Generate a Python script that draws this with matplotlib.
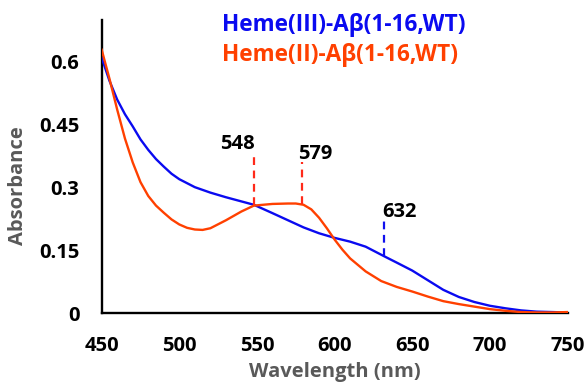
import matplotlib
matplotlib.use("Agg")
from matplotlib import pyplot as plt

# UV-vis spectra of heme-Abeta(1-16, WT), absorbance vs wavelength (nm)
wl_fe3 = [450, 455, 460, 465, 470, 475, 480, 485, 490, 495, 500, 510, 520, 530,
          540, 548, 560, 570, 580, 590, 600, 610, 620, 632, 640, 650, 660, 670,
          680, 690, 700, 710, 720, 730, 740, 750]
abs_fe3 = [0.610, 0.555, 0.510, 0.475, 0.446, 0.415, 0.390, 0.368, 0.350, 0.333,
           0.320, 0.301, 0.288, 0.277, 0.267, 0.259, 0.239, 0.222, 0.205, 0.191,
           0.180, 0.171, 0.159, 0.136, 0.121, 0.102, 0.079, 0.056, 0.039, 0.027,
           0.018, 0.012, 0.007, 0.004, 0.003, 0.002]

wl_fe2 = [450, 455, 460, 465, 470, 475, 480, 485, 490, 495, 500, 505, 510, 515,
          520, 530, 540, 548, 560, 570, 575, 580, 585, 590, 595, 600, 605, 610,
          620, 630, 640, 650, 660, 670, 680, 690, 700, 710, 720, 730, 740, 750]
abs_fe2 = [0.629, 0.560, 0.486, 0.417, 0.360, 0.313, 0.280, 0.257, 0.240, 0.224,
           0.212, 0.204, 0.200, 0.199, 0.203, 0.222, 0.243, 0.257, 0.261, 0.262,
           0.262, 0.259, 0.248, 0.228, 0.203, 0.176, 0.152, 0.131, 0.100, 0.077,
           0.063, 0.052, 0.040, 0.029, 0.022, 0.016, 0.010, 0.006, 0.003, 0.002,
           0.002, 0.003]

# peak markers: (wavelength, absorbance at curve, top of dash, colour)
peaks = [(548, 0.258, 0.384, "#ff2a1a"),
         (579, 0.260, 0.360, "#ff2a1a"),
         (632, 0.136, 0.222, "#1010ee")]
peak_text = ["548", "579", "632"]
text_dx = [-10.5, 8.5, 9.5]

blue = "#0a0af0"
orange = "#ff4000"
font = "Open Sans"

fig = plt.figure(figsize=(5.86, 3.86), dpi=100)
ax = fig.add_axes([0.1735, 0.1883, 0.795, 0.760])

ax.plot(wl_fe3, abs_fe3, color=blue, lw=1.7)
ax.plot(wl_fe2, abs_fe2, color=orange, lw=1.7)

for (x, y0, y1, c), t, dx in zip(peaks, peak_text, text_dx):
    ax.plot([x, x], [y0, y1], color=c, lw=1.6, ls=(0, (3.5, 2.5)))
    ax.text(x + dx, y1 + 0.008, t, ha="center", va="baseline",
            fontsize=14.5, fontweight="bold", family=font)

ax.set_xlim(450, 750)
ax.set_ylim(0, 0.70)
ax.set_xticks([450, 500, 550, 600, 650, 700, 750])
ax.set_yticks([0, 0.15, 0.3, 0.45, 0.6])
ax.set_yticklabels(["0", "0.15", "0.3", "0.45", "0.6"])
ax.tick_params(length=0, labelsize=14.5)
ax.tick_params(axis="x", pad=16)
ax.tick_params(axis="y", pad=16)
for lab in ax.get_xticklabels() + ax.get_yticklabels():
    lab.set_fontweight("bold")
    lab.set_family(font)

for s in ["top", "right"]:
    ax.spines[s].set_visible(False)
for s in ["left", "bottom"]:
    ax.spines[s].set_linewidth(1.7)
    ax.spines[s].set_zorder(0)

ax.set_xlabel("Wavelength (nm)", fontsize=14.5, fontweight="bold",
              family=font, color="#595959")
ax.set_ylabel("Absorbance", fontsize=14.5, fontweight="bold",
              family=font, color="#595959")
ax.xaxis.set_label_coords(0.50, -0.165)
ax.yaxis.set_label_coords(-0.1575, 0.434)

fig.text(222 / 586, 1 - 25 / 386, "Heme(III)-A\u03b2(1-16,WT)", color=blue,
         fontsize=16.3, fontweight="bold", family=font, va="center")
fig.text(222 / 586, 1 - 55 / 386, "Heme(II)-A\u03b2(1-16,WT)", color=orange,
         fontsize=16.3, fontweight="bold", family=font, va="center")

fig.savefig("out.png", dpi=100)
